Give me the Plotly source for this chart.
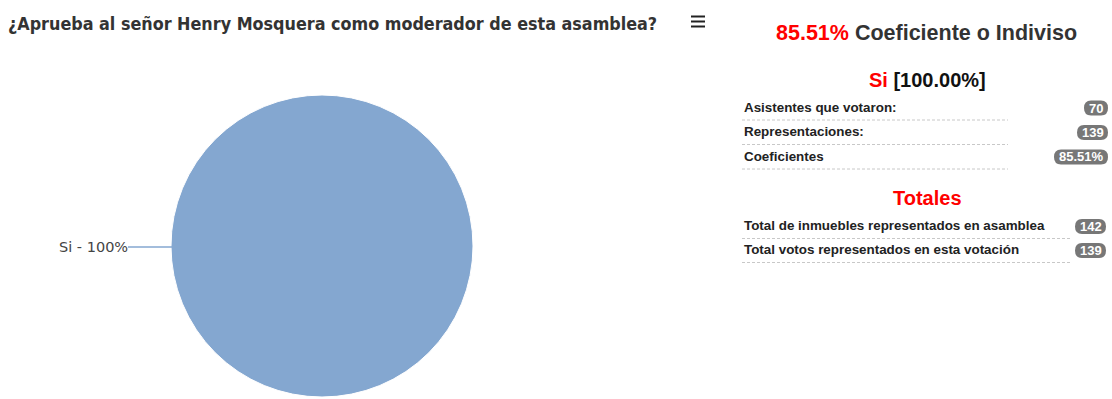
import plotly.graph_objects as go

# ---- data -------------------------------------------------------------
question = "¿Aprueba al señor Henry Mosquera como moderador de esta asamblea?"
answer_labels = ["Si"]
answer_values = [100]

coef_total = "85.51%"
coef_caption = "Coeficiente o Indiviso"

option_name = "Si"
option_pct = 100.00
detail_labels = ["Asistentes que votaron:", "Representaciones:", "Coeficientes"]
detail_values = ["70", "139", "85.51%"]

totals_title = "Totales"
totals_labels = ["Total de inmuebles representados en asamblea",
                 "Total votos representados en esta votación"]
totals_values = ["142", "139"]

# ---- canvas helpers ---------------------------------------------------
W, H = 1112, 399
PIE_COLOR = "#84a7d0"


def px(x):
    return x / W


def py(y):
    return 1 - y / H


fig = go.Figure()

# pie (domain chosen so that the disc has radius ~151 px)
fig.add_trace(go.Pie(
    labels=answer_labels,
    values=answer_values,
    marker=dict(colors=[PIE_COLOR], line=dict(color="white", width=1)),
    textinfo="none",
    sort=False,
    showlegend=False,
    domain=dict(x=[px(171), px(473)], y=[py(397), py(95)]),
))

annotations = []
shapes = []

# outside label with connector
total = sum(answer_values)
pct = round(100 * answer_values[0] / total)
annotations.append(dict(
    text=f"{answer_labels[0]} - {pct}%", x=px(130), y=py(247),
    xref="paper", yref="paper", xanchor="right", yanchor="middle",
    showarrow=False, font=dict(family="DejaVu Sans", size=14.5, color="#444"),
))
shapes.append(dict(type="line", xref="paper", yref="paper",
                   x0=px(128), x1=px(172), y0=py(247), y1=py(247),
                   line=dict(color=PIE_COLOR, width=1.5)))

# title and menu icon
annotations.append(dict(
    text=f"<b>{question}</b>", x=px(6), y=py(23),
    xref="paper", yref="paper", xanchor="left", yanchor="middle",
    showarrow=False,
    font=dict(family="DejaVu Sans Condensed", size=17.8, color="#333"),
))
for yy in (16.5, 21.5, 26.5):
    shapes.append(dict(type="line", xref="paper", yref="paper",
                       x0=px(691), x1=px(705), y0=py(yy), y1=py(yy),
                       line=dict(color="#222", width=2)))

# right panel
SANS = "Liberation Sans, Arial"
annotations.append(dict(
    text=f"<b><span style='color:#ff0000'>{coef_total}</span> {coef_caption}</b>",
    x=px(926), y=py(33), xref="paper", yref="paper",
    xanchor="center", yanchor="middle", showarrow=False,
    font=dict(family=SANS, size=21.5, color="#333"),
))
annotations.append(dict(
    text=f"<b><span style='color:#ff0000'>{option_name}</span> [{option_pct:.2f}%]</b>",
    x=px(927), y=py(80), xref="paper", yref="paper",
    xanchor="center", yanchor="middle", showarrow=False,
    font=dict(family=SANS, size=20, color="#111"),
))
annotations.append(dict(
    text=f"<b>{totals_title}</b>",
    x=px(927), y=py(198), xref="paper", yref="paper",
    xanchor="center", yanchor="middle", showarrow=False,
    font=dict(family=SANS, size=20, color="#ff0000"),
))

CHAR_W = {".": 4, "%": 12}


def badge(text, right, cy):
    w = sum(CHAR_W.get(c, 7) for c in text) + 10
    h, r = 15, 7
    x0, x1 = right - w, right
    y0, y1 = cy - h / 2, cy + h / 2
    path = (f"M {px(x0 + r)},{py(y0)} L {px(x1 - r)},{py(y0)} "
            f"Q {px(x1)},{py(y0)} {px(x1)},{py(cy)} "
            f"Q {px(x1)},{py(y1)} {px(x1 - r)},{py(y1)} "
            f"L {px(x0 + r)},{py(y1)} "
            f"Q {px(x0)},{py(y1)} {px(x0)},{py(cy)} "
            f"Q {px(x0)},{py(y0)} {px(x0 + r)},{py(y0)} Z")
    shapes.append(dict(type="path", path=path, xref="paper", yref="paper",
                       fillcolor="#777", line=dict(width=0)))
    annotations.append(dict(
        text=f"<b>{text}</b>", x=px((x0 + x1) / 2), y=py(cy),
        xref="paper", yref="paper", xanchor="center", yanchor="middle",
        showarrow=False, font=dict(family=SANS, size=13, color="white"),
    ))


def rows(labels, values, top, step, line_right, badge_right):
    for i, (lab, val) in enumerate(zip(labels, values)):
        cy = top + i * step
        annotations.append(dict(
            text=f"<b>{lab}</b>", x=px(742), y=py(cy),
            xref="paper", yref="paper", xanchor="left", yanchor="middle",
            showarrow=False, font=dict(family=SANS, size=13.4, color="#222"),
        ))
        shapes.append(dict(type="line", xref="paper", yref="paper",
                           x0=px(742), x1=px(line_right),
                           y0=py(cy + 13), y1=py(cy + 13),
                           line=dict(color="#c8c8c8", width=1, dash="3px,2px")))
        badge(val, badge_right, cy + 1)


rows(detail_labels, detail_values, 107, 24.5, 1008, 1108)
rows(totals_labels, totals_values, 225.5, 24, 1070, 1106)

fig.update_layout(
    width=W, height=H,
    margin=dict(l=0, r=0, t=0, b=0),
    paper_bgcolor="white", plot_bgcolor="white",
    annotations=annotations, shapes=shapes,
)

fig.write_html("out.html", config={"displayModeBar": False})
